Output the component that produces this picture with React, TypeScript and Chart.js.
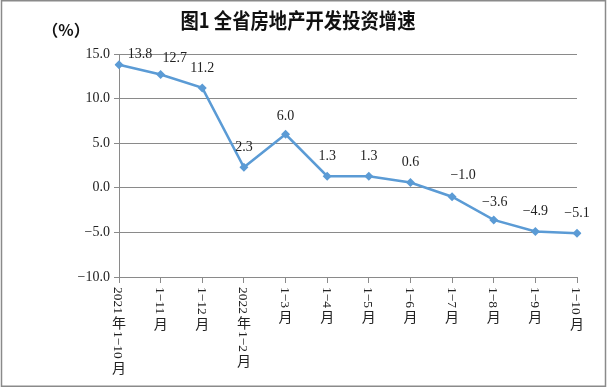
import React, { useEffect, useRef } from "react";
import { Chart, registerables } from "chart.js";

Chart.register(...registerables);

const categories = [
  "2021年1−10月",
  "1−11月",
  "1−12月",
  "2022年1−2月",
  "1−3月",
  "1−4月",
  "1−5月",
  "1−6月",
  "1−7月",
  "1−8月",
  "1−9月",
  "1−10月",
];
const growth = [13.8, 12.7, 11.2, 2.3, 6.0, 1.3, 1.3, 0.6, -1.0, -3.6, -4.9, -5.1];
const yTicks = { min: -10, max: 15, step: 5 };
const titleText = "图1 全省房地产开发投资增速";
const unitText = "（%）";

const SERIF = '"Liberation Serif", "DejaVu Serif", serif';
const CJK = '"Noto Sans CJK SC", sans-serif';

const fmt = (v: number, d: number) => {
  const s = Math.abs(v).toFixed(d);
  return v < 0 ? "−" + s : s;
};

const isCJK = (ch: string) => ch.charCodeAt(0) >= 0x2e80;

const decorPlugin = {
  id: "decor",
  beforeDraw(chart: any) {
    const ctx = chart.ctx;
    ctx.save();
    ctx.fillStyle = "#ffffff";
    ctx.fillRect(0, 0, chart.width, chart.height);
    ctx.restore();
  },
  afterDraw(chart: any) {
    const ctx = chart.ctx;
    const area = chart.chartArea;
    ctx.save();
    // border
    ctx.strokeStyle = "#8a8a8a";
    ctx.lineWidth = 1.5;
    ctx.strokeRect(1.5, 0.75, 604, 385.5);

    // title (slightly condensed horizontally)
    ctx.fillStyle = "#111111";
    ctx.font = `bold 21px ${CJK}`;
    ctx.textAlign = "center";
    ctx.textBaseline = "middle";
    const tw = ctx.measureText(titleText).width;
    const sx = 235 / tw;
    ctx.save();
    ctx.translate(298, 20);
    ctx.scale(sx, 1);
    ctx.fillText(titleText, 0, 0);
    ctx.restore();

    // unit
    ctx.font = `bold 16px ${CJK}`;
    ctx.fillText(unitText, 66, 30);

    // vertical x labels
    const xs = chart.scales.x;
    categories.forEach((label, i) => {
      const x = xs.getPixelForValue(i);
      let y = area.bottom + 10;
      let run = "";
      const flush = () => {
        if (!run) return;
        ctx.save();
        ctx.font = `13.5px ${SERIF}`;
        ctx.translate(x, y);
        ctx.rotate(Math.PI / 2);
        ctx.textAlign = "left";
        ctx.textBaseline = "middle";
        ctx.fillStyle = "#222222";
        ctx.fillText(run, 0, 1);
        y += ctx.measureText(run).width + 1;
        ctx.restore();
        run = "";
      };
      for (const ch of label) {
        if (isCJK(ch)) {
          flush();
          ctx.save();
          ctx.font = `14px ${CJK}`;
          ctx.textAlign = "center";
          ctx.textBaseline = "middle";
          ctx.fillStyle = "#222222";
          ctx.fillText(ch, x, y + 8);
          ctx.restore();
          y += 16;
        } else {
          run += ch;
        }
      }
      flush();
    });

    // data labels
    const meta = chart.getDatasetMeta(0);
    const shift: Record<number, [number, number]> = {
      0: [21, -10],
      1: [14, -16],
      8: [11, -21],
      9: [1, -18],
      4: [0, -18],
    };
    ctx.font = `14px ${SERIF}`;
    ctx.fillStyle = "#222222";
    ctx.textAlign = "center";
    ctx.textBaseline = "middle";
    meta.data.forEach((pt: any, i: number) => {
      const [dx, dy] = shift[i] || [0, -20];
      ctx.fillText(fmt(growth[i], 1), pt.x + dx, pt.y + dy);
    });
    ctx.restore();
  },
};

export default function App() {
  const ref = useRef<HTMLCanvasElement | null>(null);
  useEffect(() => {
    if (!ref.current) return;
    const chart = new Chart(ref.current, {
      type: "line",
      data: {
        labels: categories,
        datasets: [
          {
            data: growth,
            borderColor: "#5b9bd5",
            backgroundColor: "#5b9bd5",
            borderWidth: 2.5,
            pointStyle: "rectRot",
            pointRadius: 4.5,
            pointBorderWidth: 0,
            tension: 0,
          },
        ],
      },
      options: {
        responsive: false,
        animation: false,
        devicePixelRatio: 1,
        layout: { padding: { left: 0, top: 54, right: 34, bottom: 0 } },
        plugins: {
          legend: { display: false },
          tooltip: { enabled: false },
          title: { display: false },
        },
        scales: {
          x: {
            offset: false,
            grid: {
              drawOnChartArea: false,
              drawTicks: true,
              tickLength: 6,
              color: "#8a8a8a",
            },
            border: { display: true, color: "#8a8a8a", width: 1 },
            ticks: { display: false, autoSkip: false },
            afterFit: (s: any) => {
              s.height = 112;
            },
          },
          y: {
            min: yTicks.min,
            max: yTicks.max,
            grid: {
              color: "#8a8a8a",
              drawTicks: true,
              tickLength: 5,
            },
            border: { display: true, color: "#8a8a8a", width: 1 },
            ticks: {
              stepSize: yTicks.step,
              padding: 4,
              color: "#222222",
              font: { family: SERIF, size: 14 },
              callback: (v: any) => fmt(Number(v), 1),
            },
            afterFit: (s: any) => {
              s.width = 119;
            },
          },
        },
      },
      plugins: [decorPlugin],
    });
    return () => chart.destroy();
  }, []);
  return (
    <div style={{ position: "fixed", left: 0, top: 0, width: 611, height: 389 }}>
      <canvas ref={ref} width={611} height={389} style={{ width: 611, height: 389 }} />
    </div>
  );
}
